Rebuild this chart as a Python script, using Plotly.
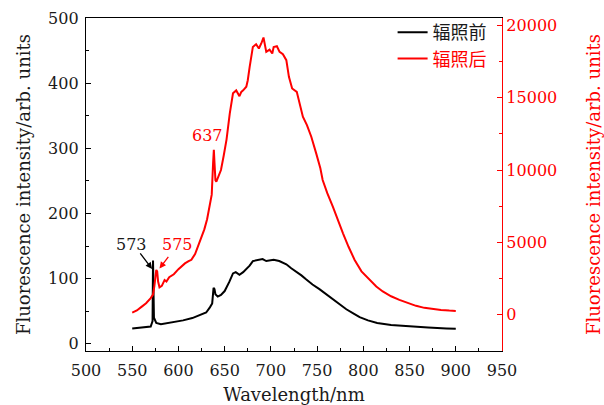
import plotly.graph_objects as go

# ---------------- data ----------------
wl_before = [550, 555, 560, 565, 570, 572, 572.5, 573.5, 576, 581, 590, 597, 605, 615, 623, 630,
             634, 636.5, 638, 639, 640, 642.5, 646, 650, 655, 659, 662, 666, 670, 673, 677,
             680.5, 685, 691, 695, 698.5, 703, 709, 713, 716.7, 722, 727.5, 733, 738, 745,
             752.5, 760, 767, 775, 781.6, 790, 796, 805, 815, 830, 850, 870, 890, 900]
int_before = [23.5, 24, 24.5, 25, 26.5, 35, 128, 40, 32, 30, 32, 33.5, 36, 39.5, 44, 48,
              56, 62, 86, 84, 76, 72.5, 75, 81, 95, 108, 110, 106, 110, 114, 120,
              127, 128, 130, 127, 128, 129, 127, 125, 122, 116, 111, 105, 99, 91,
              84, 76, 68, 60, 53, 46, 41, 36, 32, 29, 26.5, 25, 23.5, 23]

wl_after = [550, 555, 560, 565, 570, 572.5, 574, 576, 577, 578, 579.5, 582, 585, 587, 590, 595,
            600, 603, 607, 611, 614, 618, 621, 625, 628, 631, 634, 636, 637.5, 638.3, 639, 640,
            641, 643, 646, 649, 652, 655.5, 659, 662.5, 666, 668, 670, 673.4, 675, 677, 680.5,
            684, 687, 689.6, 692, 695, 698.6, 701.5, 703, 706.5, 709.4, 713, 716.7, 719.5, 723,
            728, 731, 734.6, 739, 743.7, 749, 753.5, 756, 761, 767, 772, 778, 784, 790.6, 798,
            806.8, 814, 821, 830, 839, 848, 857, 866, 875, 884, 893, 900]
int_after = [150, 300, 550, 800, 1150, 1400, 2000, 3100, 3000, 2300, 1900, 2000, 2400, 2300, 2600, 2800,
             3150, 3330, 3550, 3700, 3800, 4200, 4700, 5300, 5900, 6600, 7500, 8300, 10500, 11400, 10500, 9300,
             9200, 9500, 10000, 11000, 12100, 13900, 15300, 15500, 15100, 15400, 15500, 15750, 16200, 17100, 18500,
             18690, 18390, 18740, 19150, 18160, 18320, 18050, 18500, 18550, 18160, 18000, 17590, 16440, 15630,
             15400, 14650, 13680, 13100, 12300, 11150, 10120, 9310, 8400, 7470, 6600, 5630, 4700, 3790, 3000,
             2410, 1950, 1610, 1280, 1030, 800, 620, 480, 390, 330, 290, 270]

x_ticks = [500, 550, 600, 650, 700, 750, 800, 850, 900, 950]
y_left_ticks = [0, 100, 200, 300, 400, 500]
y_right_ticks = [0, 5000, 10000, 15000, 20000]
y_right_labels = ["0", "5000", "10000", "15000", "20000"]

name_before = "辐照前"
name_after = "辐照后"
x_title = "Wavelength/nm"
y_title = "Fluorescence intensity/arb. units"

RED = "#ff0000"
INK = "#1a1a1a"
SERIF = "DejaVu Serif"
CJK = "Noto Sans CJK SC"

fig = go.Figure()
fig.add_trace(go.Scatter(x=wl_before, y=int_before, mode="lines", name=name_before,
                         line=dict(color="black", width=2), yaxis="y"))
fig.add_trace(go.Scatter(x=wl_after, y=int_after, mode="lines",
                         name="<span style='color:#ff0000'>" + name_after + "</span>",
                         line=dict(color=RED, width=2), yaxis="y2"))

fig.update_layout(
    width=604, height=405,
    margin=dict(l=86, r=102, t=18, b=54),
    paper_bgcolor="white", plot_bgcolor="white",
    showlegend=True,
    legend=dict(x=0.975, y=1.012, xanchor="right", yanchor="top",
                bgcolor="rgba(0,0,0,0)", font=dict(family=CJK, size=18, color=INK),
                itemwidth=30, tracegroupgap=0),
    xaxis=dict(range=[500, 950], tickvals=x_ticks, ticks="inside", ticklen=5, tickwidth=1,
               tickcolor="black", showline=True, linecolor="black", linewidth=1.3, mirror=True,
               showgrid=False, zeroline=False, automargin=False, ticklabelstandoff=5,
               minor=dict(dtick=25, tick0=500, ticks="inside", ticklen=3, tickcolor="black"),
               tickfont=dict(family=SERIF, size=16, color=INK),
               title=dict(text=x_title, font=dict(family=SERIF, size=18, color=INK), standoff=14)),
    yaxis=dict(range=[-11, 500], tickvals=y_left_ticks, ticks="inside", ticklen=5, tickwidth=1,
               tickcolor="black", showline=True, linecolor="black", linewidth=1.3,
               showgrid=False, zeroline=False, automargin=False, ticklabelstandoff=3,
               minor=dict(dtick=50, tick0=0, ticks="inside", ticklen=3, tickcolor="black"),
               tickfont=dict(family=SERIF, size=16, color=INK),
               title=dict(text=y_title, font=dict(family=SERIF, size=18, color=INK), standoff=12)),
    yaxis2=dict(range=[-2500, 20500], tickvals=y_right_ticks, ticktext=y_right_labels,
                overlaying="y", side="right", automargin=False,
                anchor="x", ticks="inside", ticklen=5, tickwidth=1, tickcolor=RED,
                showline=True, linecolor=RED, linewidth=1.3, showgrid=False, zeroline=False,
                minor=dict(dtick=2500, tick0=0, ticks="inside", ticklen=3, tickcolor=RED),
                tickfont=dict(family=SERIF, size=16, color=RED),
                title=dict(text=y_title, font=dict(family=SERIF, size=18, color=RED), standoff=31)),
)

# annotations
fig.add_annotation(x=549.5, y=153, xref="x", yref="y", text="573", showarrow=False,
                   font=dict(family=SERIF, size=16, color=INK))
fig.add_annotation(x=571.5, y=115, xref="x", yref="y", text="", showarrow=True,
                   ax=-13, ay=-17, arrowhead=2, arrowsize=1, arrowwidth=1.3, arrowcolor="black",
                   standoff=0)
fig.add_annotation(x=598.5, y=153, xref="x", yref="y", text="575", showarrow=False,
                   font=dict(family=SERIF, size=16, color=RED))
fig.add_annotation(x=579.5, y=3200, xref="x", yref="y2", text="", showarrow=True,
                   ax=10, ay=-13, arrowhead=2, arrowsize=1, arrowwidth=1.3, arrowcolor=RED,
                   standoff=0)
fig.add_annotation(x=631.5, y=320, xref="x", yref="y", text="637", showarrow=False,
                   font=dict(family=SERIF, size=16, color=RED))

fig.write_html("out.html")
